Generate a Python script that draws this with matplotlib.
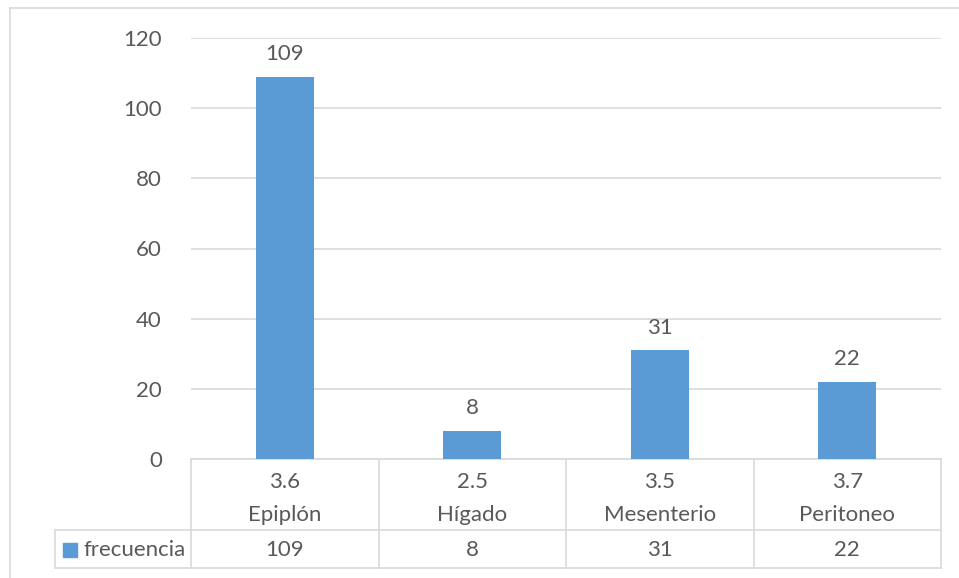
import matplotlib.pyplot as plt
from matplotlib.patches import Rectangle
from matplotlib.lines import Line2D

plt.rcParams['font.family'] = ['Lato', 'DejaVu Sans']

# datos
categorias = ['Epiplón', 'Hígado', 'Mesenterio', 'Peritoneo']
promedios = ['3.6', '2.5', '3.5', '3.7']
frecuencia = [109, 8, 31, 22]
serie = 'frecuencia'

azul = '#5B9BD5'
gris_txt = '#595959'
gris_lin = '#D9D9D9'
fs = 16

W, H = 959, 578
fig = plt.figure(figsize=(W / 100, H / 100), dpi=100)

# marco exterior del grafico
fig.add_artist(Line2D([10 / W, 1], [1 - 8 / H, 1 - 8 / H], color=gris_lin, lw=1.2))
fig.add_artist(Line2D([10 / W, 10 / W], [0, 1 - 8 / H], color=gris_lin, lw=1.2))

x0, x1, y0, y1 = 191, 941, 38, 459
ax = fig.add_axes([x0 / W, 1 - y1 / H, (x1 - x0) / W, (y1 - y0) / H])
pos = list(range(len(categorias)))
ax.bar(pos, frecuencia, width=0.31, color=azul, zorder=3)
ax.set_xlim(-0.5, len(categorias) - 0.5)
ax.set_ylim(0, 120)
ax.set_yticks(range(0, 121, 20))
ax.yaxis.grid(True, color=gris_lin, lw=1.2, zorder=0)
ax.tick_params(axis='y', length=0, pad=21, labelsize=fs, labelcolor=gris_txt)
ax.set_xticks([])
for s in ax.spines.values():
    s.set_visible(False)

for p, v in zip(pos, frecuencia):
    ax.annotate(str(v), (p, v), xytext=(0, 9), textcoords='offset points',
                ha='center', va='bottom', fontsize=fs, color=gris_txt)

# tabla de datos bajo el eje
tr = ax.get_xaxis_transform()
ph = y1 - y0
r1 = -(530 - y1) / ph
r2 = -(568 - y1) / ph
xl = -0.5 - (x0 - 55) / ((x1 - x0) / len(categorias))
n = len(categorias)

def linea(xs, ys):
    ax.add_line(Line2D(xs, ys, transform=tr, color=gris_lin, lw=1.2, clip_on=False))

linea([-0.5, n - 0.5], [0, 0])
linea([xl, n - 0.5], [r1, r1])
linea([xl, n - 0.5], [r2, r2])
for b in range(n + 1):
    linea([b - 0.5, b - 0.5], [0, r2])
linea([xl, xl], [r1, r2])

for p, c, m, v in zip(pos, categorias, promedios, frecuencia):
    ax.text(p, -(482 - y1) / ph, m, transform=tr, ha='center', va='center',
            fontsize=fs, color=gris_txt)
    ax.text(p, -(515 - y1) / ph, c, transform=tr, ha='center', va='center',
            fontsize=fs, color=gris_txt)
    ax.text(p, -(550 - y1) / ph, str(v), transform=tr, ha='center', va='center',
            fontsize=fs, color=gris_txt)

fig.add_artist(Rectangle((63 / W, 1 - 557 / H), 14 / W, 14 / H, color=azul))
fig.text(83 / W, 1 - 550 / H, serie, ha='left', va='center', fontsize=fs, color=gris_txt)

fig.savefig('out.png', dpi=100, facecolor='white')
